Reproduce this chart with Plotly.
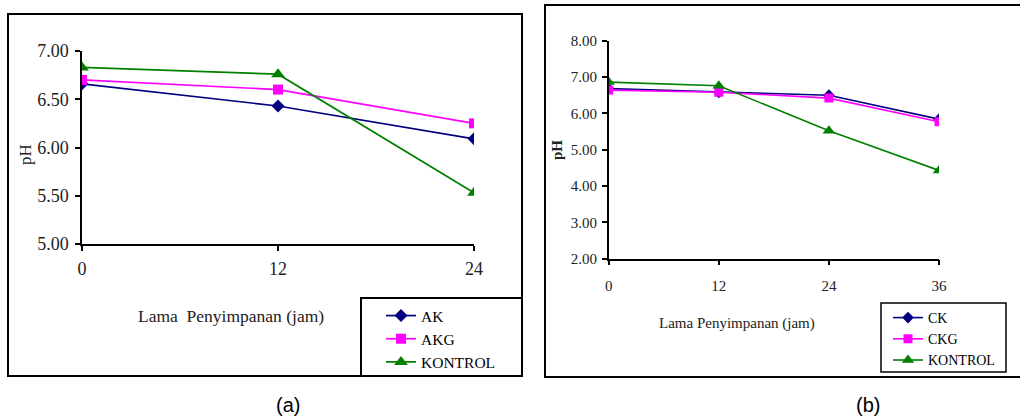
import plotly.graph_objects as go

W, H = 1020, 419

# ---- data ----
hours_a = [0, 12, 24]
ak = [6.66, 6.43, 6.09]
akg = [6.70, 6.60, 6.25]
kontrol_a = [6.83, 6.76, 5.53]

hours_b = [0, 12, 24, 36]
ck = [6.68, 6.58, 6.50, 5.84]
ckg = [6.64, 6.58, 6.42, 5.77]
kontrol_b = [6.86, 6.76, 5.52, 4.43]

ticks_a = [0, 12, 24]
ticks_b = [0, 12, 24, 36]

NAVY, MAG, GREEN = "#000080", "#FF00FF", "#008000"
SERIF = "Times New Roman, Liberation Serif, serif"


def px(x):
    return x / W


def py(y):
    return 1 - y / H


fig = go.Figure()

styles = [("diamond", NAVY, 10), ("square", MAG, 10), ("triangle-up", GREEN, 12)]

for (name, vals), (sym, col, sz) in zip(
    [("AK", ak), ("AKG", akg), ("KONTROL", kontrol_a)], styles
):
    fig.add_trace(go.Scatter(
        x=hours_a, y=vals, name=name, mode="lines+markers",
        line=dict(color=col, width=1.7),
        marker=dict(symbol=sym, color=col, size=sz),
        xaxis="x", yaxis="y", legend="legend",
    ))

for (name, vals), (sym, col, sz) in zip(
    [("CK", ck), ("CKG", ckg), ("KONTROL", kontrol_b)], styles
):
    fig.add_trace(go.Scatter(
        x=hours_b, y=vals, name=name, mode="lines+markers",
        line=dict(color=col, width=1.6),
        marker=dict(symbol=sym, color=col, size=sz - 1),
        xaxis="x2", yaxis="y2", legend="legend2",
    ))

axis_common = dict(showline=True, linecolor="black", linewidth=1.5,
                   ticks="outside", ticklen=5, tickwidth=1.5, tickcolor="black",
                   showgrid=False, zeroline=False, automargin=False)

fig.update_layout(
    width=W, height=H,
    margin=dict(l=0, r=0, t=0, b=0, pad=0, autoexpand=False),
    paper_bgcolor="white", plot_bgcolor="white",
    xaxis=dict(domain=[px(82), px(474)], range=[0, 24], tickvals=ticks_a,
               anchor="y", tickfont=dict(family=SERIF, size=18, color="#222"),
               ticklabelstandoff=3, **axis_common),
    yaxis=dict(domain=[py(244), py(51)], range=[5, 7], dtick=0.5, tick0=5,
               tickformat=".2f", anchor="x",
               tickfont=dict(family=SERIF, size=18, color="#222"),
               ticklabelstandoff=3, **axis_common),
    xaxis2=dict(domain=[px(608.7), px(939)], range=[0, 36], tickvals=ticks_b,
                anchor="y2", tickfont=dict(family=SERIF, size=15, color="#222"),
                ticklabelstandoff=8, **axis_common),
    yaxis2=dict(domain=[py(258.7), py(40.7)], range=[2, 8], dtick=1, tick0=2,
                tickformat=".2f", anchor="x2",
                tickfont=dict(family=SERIF, size=15, color="#222"),
                ticklabelstandoff=2, **axis_common),
    legend=dict(x=px(381), y=py(299), xanchor="left", yanchor="top",
                font=dict(family=SERIF, size=15.5, color="black"),
                bgcolor="rgba(0,0,0,0)", borderwidth=0, tracegroupgap=0,
                itemwidth=30),
    legend2=dict(x=px(888), y=py(302), xanchor="left", yanchor="top",
                 font=dict(family=SERIF, size=14, color="black"),
                 bgcolor="rgba(0,0,0,0)", borderwidth=0, tracegroupgap=0,
                 itemwidth=30),
    showlegend=True,
)

shapes = [
    # outer frames
    dict(type="rect", xref="paper", yref="paper", x0=px(8), x1=px(522),
         y0=py(376), y1=py(14), line=dict(color="black", width=2)),
    dict(type="rect", xref="paper", yref="paper", x0=px(545), x1=px(1021),
         y0=py(377), y1=py(5), line=dict(color="black", width=2)),
    # legend boxes
    dict(type="rect", xref="paper", yref="paper", x0=px(361), x1=px(522),
         y0=py(376), y1=py(298), line=dict(color="black", width=2)),
    dict(type="rect", xref="paper", yref="paper", x0=px(881), x1=px(1006),
         y0=py(372), y1=py(303), line=dict(color="black", width=1.5)),
]
fig.update_layout(shapes=shapes)

ann = [
    dict(text="Lama  Penyimpanan (jam)", x=px(231), y=py(316),
         font=dict(family=SERIF, size=17.5, color="#222")),
    dict(text="pH", x=px(25), y=py(155), textangle=-90,
         font=dict(family=SERIF, size=17, color="#222")),
    dict(text="Lama Penyimpanan (jam)", x=px(737), y=py(323),
         font=dict(family=SERIF, size=15, color="#222")),
    dict(text="<b>pH</b>", x=px(557), y=py(150), textangle=-90,
         font=dict(family=SERIF, size=15, color="#222")),
    dict(text="(a)", x=px(288), y=py(405),
         font=dict(family="Liberation Sans", size=20, color="black")),
    dict(text="(b)", x=px(868), y=py(405),
         font=dict(family="Liberation Sans", size=20, color="black")),
]
for a in ann:
    a.update(xref="paper", yref="paper", showarrow=False,
             xanchor="center", yanchor="middle")
fig.update_layout(annotations=ann)

fig.write_html(
    "out.html",
    config={"displayModeBar": False},
    post_script="document.body.style.margin='0';document.body.style.overflow='hidden';",
)
